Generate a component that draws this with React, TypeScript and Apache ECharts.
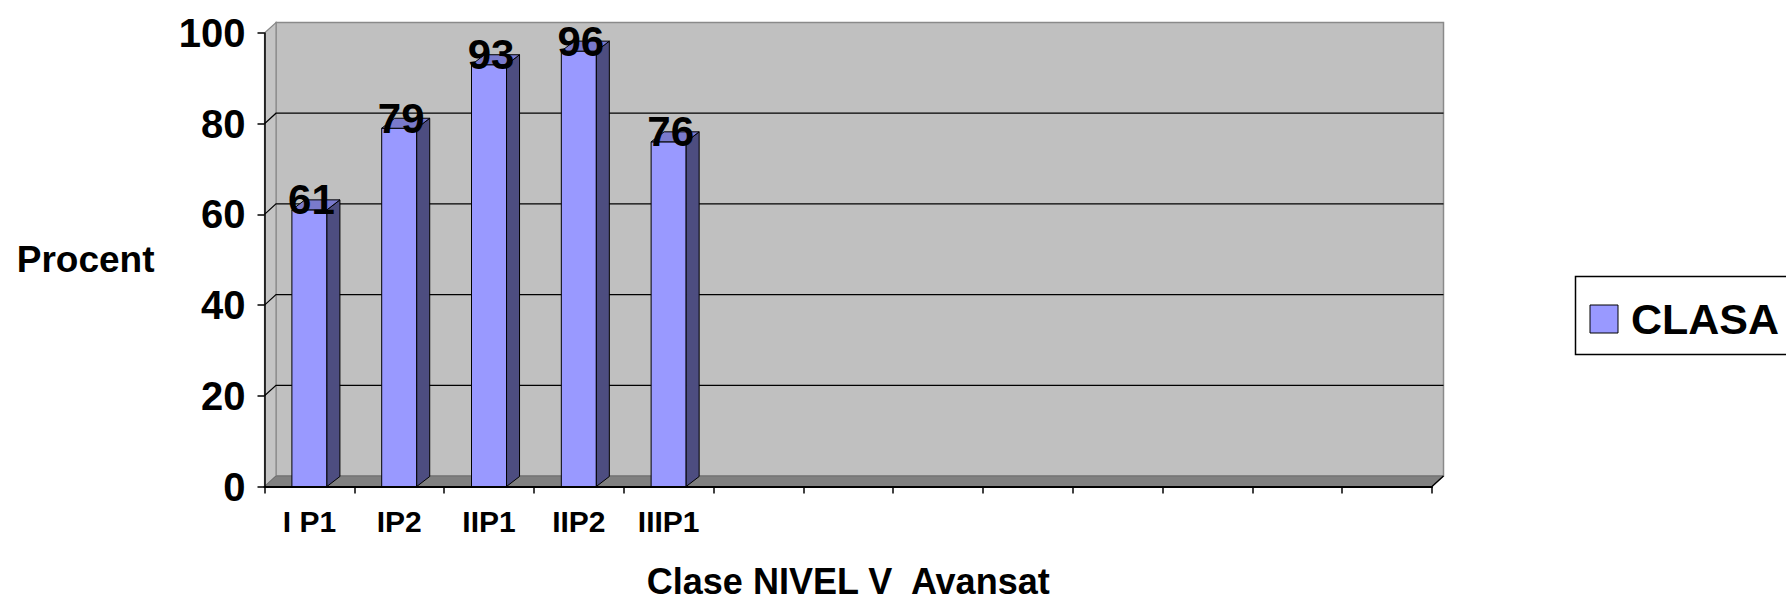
import React, { useEffect, useRef } from "react";
import * as echarts from "echarts";

const categories = ["I P1", "IP2", "IIP1", "IIP2", "IIIP1", "", "", "", "", "", "", "", ""];
const values = [61, 79, 93, 96, 76];
const yTicks = [0, 20, 40, 60, 80, 100];
const seriesName = "CLASA";
const xAxisTitle = "Clase NIVEL V  Avansat";
const yAxisTitle = "Procent";

const FONT = '"Liberation Sans", Arial, Helvetica, sans-serif';
const DX = 11.5;
const DY = -10.5;
const BDX = 13;
const BDY = -10;

export default function App() {
  const ref = useRef<HTMLDivElement>(null);

  useEffect(() => {
    if (!ref.current) return;
    const chart = echarts.init(ref.current, null, { renderer: "svg" });

    const wallsSeries = {
      type: "custom",
      name: "walls",
      silent: true,
      z: 1,
      data: [[0, 0]],
      renderItem: (params: any, api: any) => {
        const cs = params.coordSys;
        const x0 = cs.x;
        const x1 = cs.x + cs.width;
        const yT = cs.y;
        const yB = cs.y + cs.height;
        const children: any[] = [];
        children.push({
          type: "polygon",
          shape: { points: [[x0 + DX, yT + DY], [x1 + DX, yT + DY], [x1 + DX, yB + DY], [x0 + DX, yB + DY]] },
          style: { fill: "#C0C0C0", stroke: "#8a8a8a", lineWidth: 1.5 },
        });
        children.push({
          type: "polygon",
          shape: { points: [[x0, yT], [x0 + DX, yT + DY], [x0 + DX, yB + DY], [x0, yB]] },
          style: { fill: "#C4C4C4", stroke: "#8a8a8a", lineWidth: 1.2 },
        });
        children.push({
          type: "polygon",
          shape: { points: [[x0, yB], [x1, yB], [x1 + DX, yB + DY], [x0 + DX, yB + DY]] },
          style: { fill: "#808080", stroke: "#6e6e6e", lineWidth: 1 },
        });
        yTicks.slice(1, -1).forEach((v) => {
          const y = api.coord([0, v])[1];
          children.push({
            type: "polyline",
            shape: { points: [[x0, y], [x0 + DX, y + DY], [x1 + DX, y + DY]] },
            style: { stroke: "#000", lineWidth: 1.2, fill: null },
          });
        });
        children.push({
          type: "line",
          shape: { x1: x1, y1: yB, x2: x1 + DX, y2: yB + DY },
          style: { stroke: "#000", lineWidth: 1.5 },
        });
        return { type: "group", children };
      },
    };

    const barSeries = {
      type: "custom",
      name: seriesName,
      z: 3,
      itemStyle: { color: "#9999FF", borderColor: "#000", borderWidth: 1 },
      data: values.map((v, i) => [i, v]),
      encode: { x: 0, y: 1 },
      renderItem: (params: any, api: any) => {
        const idx = api.value(0);
        const v = api.value(1);
        const top = api.coord([idx, v]);
        const base = api.coord([idx, 0]);
        const cx = top[0];
        const yT = top[1];
        const yB = base[1];
        const bw = api.size([1, 0])[0] * 0.39;
        const xl = cx - bw / 2;
        const xr = cx + bw / 2;
        return {
          type: "group",
          children: [
            {
              type: "rect",
              shape: { x: xl, y: yT, width: bw, height: yB - yT },
              style: { fill: "#9999FF", stroke: "#000", lineWidth: 1 },
            },
            {
              type: "polygon",
              shape: { points: [[xr, yT], [xr + BDX, yT + BDY], [xr + BDX, yB + BDY], [xr, yB]] },
              style: { fill: "#4D4D80", stroke: "#000", lineWidth: 1 },
            },
            {
              type: "polygon",
              shape: { points: [[xl, yT], [xr, yT], [xr + BDX, yT + BDY], [xl + BDX, yT + BDY]] },
              style: { fill: "#7A7ACC", stroke: "#000", lineWidth: 1 },
            },
            {
              type: "text",
              x: cx + 2,
              y: yT - 10,
              style: {
                text: String(v),
                fill: "#000",
                fontSize: 42,
                fontWeight: "bold",
                fontFamily: FONT,
                align: "center",
                verticalAlign: "middle",
              },
            },
          ],
        };
      },
    };

    chart.setOption({
      animation: false,
      backgroundColor: "#ffffff",
      textStyle: { fontFamily: FONT },
      grid: {
        left: 264.5,
        right: 354,
        top: 33,
        bottom: 115.5,
        containLabel: false,
        outerBoundsMode: "none",
      },
      legend: {
        data: [seriesName],
        left: 1575.5,
        top: 276.5,
        orient: "vertical",
        backgroundColor: "#ffffff",
        borderColor: "#000",
        borderWidth: 1.5,
        borderRadius: 0,
        padding: [21, 60, 14, 14],
        itemWidth: 28,
        itemHeight: 28,
        itemGap: 0,
        icon: "rect",
        itemStyle: { color: "#9999FF", borderColor: "#000", borderWidth: 1 },
        textStyle: {
          fontFamily: FONT,
          fontSize: 43,
          fontWeight: "bold",
          color: "#000",
          padding: [0, 0, 0, 8],
          lineHeight: 28,
        },
      },
      xAxis: {
        type: "category",
        data: categories,
        z: 5,
        axisLine: { show: true, lineStyle: { color: "#000", width: 2 } },
        axisTick: { show: true, length: 7, lineStyle: { color: "#000", width: 1.5 } },
        axisLabel: {
          interval: 0,
          fontFamily: FONT,
          fontSize: 30,
          fontWeight: "bold",
          color: "#000",
          margin: 20,
        },
        splitLine: { show: false },
        name: xAxisTitle,
        nameLocation: "middle",
        nameGap: 75,
        nameTextStyle: {
          fontFamily: FONT,
          fontSize: 36,
          fontWeight: "bold",
          color: "#000",
          lineHeight: 40,
        },
      },
      yAxis: {
        type: "value",
        min: 0,
        max: 100,
        interval: 20,
        z: 5,
        axisLine: { show: true, lineStyle: { color: "#000", width: 1.5 } },
        axisTick: { show: true, length: 7, lineStyle: { color: "#000", width: 1.5 } },
        axisLabel: {
          fontFamily: FONT,
          fontSize: 40,
          fontWeight: "bold",
          color: "#000",
          margin: 19,
        },
        splitLine: { show: false },
        name: yAxisTitle,
        nameLocation: "middle",
        nameRotate: 0,
        nameGap: 110,
        nameTextStyle: { fontFamily: FONT, fontSize: 37, fontWeight: "bold", color: "#000" },
      },
      series: [wallsSeries, barSeries],
    });

    return () => {
      chart.dispose();
    };
  }, []);

  return (
    <div
      ref={ref}
      style={{ position: "absolute", left: 0, top: 0, width: 1786, height: 602 }}
    />
  );
}
